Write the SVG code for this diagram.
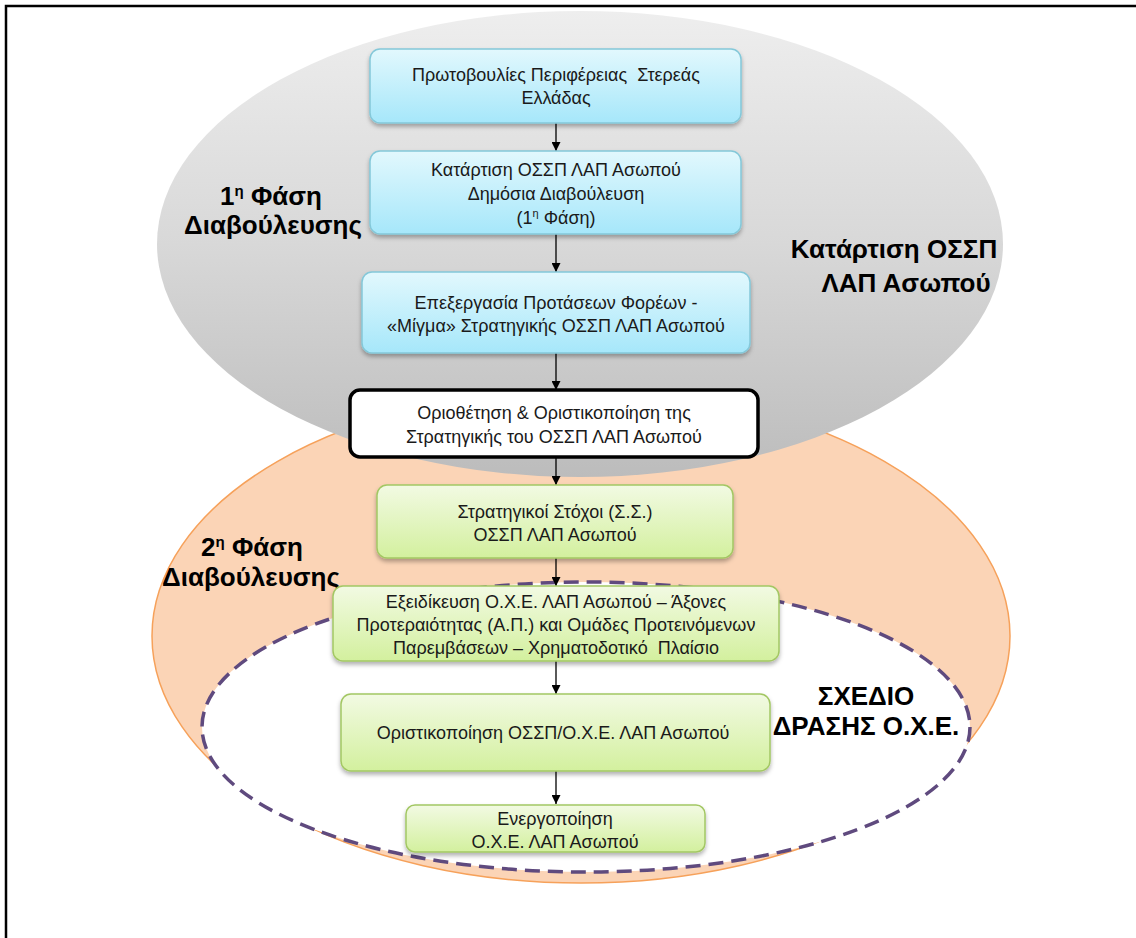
<svg xmlns="http://www.w3.org/2000/svg" width="1136" height="938" viewBox="0 0 1136 938">
<defs>
<linearGradient id="gGray" x1="0" y1="0" x2="0" y2="1">
<stop offset="0" stop-color="#EEEEEE"/>
<stop offset="0.5" stop-color="#D8D8D8"/>
<stop offset="1" stop-color="#BCBCBC"/>
</linearGradient>
<linearGradient id="gBlue" x1="0" y1="0" x2="0" y2="1">
<stop offset="0" stop-color="#E2F8FD"/>
<stop offset="1" stop-color="#A6E7FA"/>
</linearGradient>
<linearGradient id="gGreen" x1="0" y1="0" x2="0" y2="1">
<stop offset="0" stop-color="#F2FAE3"/>
<stop offset="1" stop-color="#D3F09E"/>
</linearGradient>
<filter id="sh" x="-10%" y="-20%" width="120%" height="150%">
<feDropShadow dx="0" dy="3" stdDeviation="2" flood-color="#000" flood-opacity="0.3"/>
</filter>
<marker id="arr" viewBox="0 0 10 10" refX="10" refY="5" markerWidth="9" markerHeight="9" markerUnits="userSpaceOnUse" orient="auto">
<path d="M0,0 L10,5 L0,10 z" fill="#000"/>
</marker>
<style>
.blue{fill:url(#gBlue);stroke:#84C8D9;stroke-width:1.5}
.green{fill:url(#gGreen);stroke:#A3C764;stroke-width:1.5}
.t{font-family:"Liberation Sans",Arial,sans-serif;font-size:18px;fill:#1A1A1A;text-anchor:middle;white-space:pre}
.lbl{font-family:"Liberation Sans",Arial,sans-serif;font-size:26px;font-weight:bold;fill:#000;text-anchor:middle}
.con{stroke:#000;stroke-width:1.3;fill:none;marker-end:url(#arr)}
</style>
</defs>
<rect x="0" y="0" width="1136" height="938" fill="#FFFFFF"/>
<path d="M6,938 V6 H1136" fill="none" stroke="#000" stroke-width="2.5"/>

<g id="bg-ellipses">
<ellipse cx="581" cy="636" rx="429" ry="247" fill="#FBD4B6" stroke="#F6A15A" stroke-width="1.5"/>
<ellipse cx="580" cy="244" rx="423" ry="233" fill="url(#gGray)"/>
<ellipse cx="586" cy="727" rx="384" ry="145" fill="#FFFFFF" stroke="#5F4A7E" stroke-width="3.5" stroke-dasharray="15 8"/>
</g>

<g id="labels">
<text class="lbl" x="271" y="205">1<tspan font-size="15" dy="-9">η</tspan><tspan dy="9"> Φάση</tspan></text>
<text class="lbl" x="273" y="234">Διαβούλευσης</text>
<text class="lbl" x="894" y="258" font-size="25">Κατάρτιση ΟΣΣΠ</text>
<text class="lbl" x="906" y="292" font-size="25">ΛΑΠ Ασωπού</text>
<text class="lbl" x="252" y="556">2<tspan font-size="15" dy="-9">η</tspan><tspan dy="9"> Φάση</tspan></text>
<text class="lbl" x="251" y="586">Διαβούλευσης</text>
<text class="lbl" x="866" y="705">ΣΧΕΔΙΟ</text>
<text class="lbl" x="866" y="735">ΔΡΑΣΗΣ Ο.Χ.Ε.</text>
</g>

<g id="connectors">
<line class="con" x1="556" y1="123" x2="556" y2="151"/>
<line class="con" x1="556" y1="234" x2="556" y2="272"/>
<line class="con" x1="556" y1="353" x2="556" y2="390"/>
<line class="con" x1="556" y1="457" x2="556" y2="485"/>
<line class="con" x1="556" y1="558" x2="556" y2="586"/>
<line class="con" x1="556" y1="661" x2="556" y2="694"/>
<line class="con" x1="556" y1="771" x2="556" y2="804"/>
</g>

<g id="n1">
<rect class="blue" x="370" y="49" width="371" height="74" rx="10" filter="url(#sh)"/>
<text class="t" x="556" y="81">Πρωτοβουλίες Περιφέρειας  Στερεάς</text>
<text class="t" x="556" y="104">Ελλάδας</text>
</g>
<g id="n2">
<rect class="blue" x="370" y="151" width="371" height="83" rx="10" filter="url(#sh)"/>
<text class="t" x="556" y="176">Κατάρτιση ΟΣΣΠ ΛΑΠ Ασωπού</text>
<text class="t" x="556" y="200">Δημόσια Διαβούλευση</text>
<text class="t" x="556" y="224">(1<tspan font-size="11" dy="-7">η</tspan><tspan dy="7"> Φάση)</tspan></text>
</g>
<g id="n3">
<rect class="blue" x="362" y="272" width="388" height="81" rx="10" filter="url(#sh)"/>
<text class="t" x="556" y="309">Επεξεργασία Προτάσεων Φορέων -</text>
<text class="t" x="556" y="332">«Μίγμα» Στρατηγικής ΟΣΣΠ ΛΑΠ Ασωπού</text>
</g>
<g id="n4">
<rect x="350" y="390" width="408" height="67" rx="10" fill="#FFFFFF" stroke="#000" stroke-width="3.5"/>
<text class="t" x="554" y="419">Οριοθέτηση &amp; Οριστικοποίηση της</text>
<text class="t" x="554" y="443">Στρατηγικής του ΟΣΣΠ ΛΑΠ Ασωπού</text>
</g>
<g id="n5">
<rect class="green" x="377" y="485" width="356" height="73" rx="10" filter="url(#sh)"/>
<text class="t" x="555" y="518">Στρατηγικοί Στόχοι (Σ.Σ.)</text>
<text class="t" x="555" y="541">ΟΣΣΠ ΛΑΠ Ασωπού</text>
</g>
<g id="n6">
<rect class="green" x="333" y="586" width="446" height="75" rx="10" filter="url(#sh)"/>
<text class="t" x="556" y="608">Εξειδίκευση Ο.Χ.Ε. ΛΑΠ Ασωπού – Άξονες</text>
<text class="t" x="556" y="631">Προτεραιότητας (Α.Π.) και Ομάδες Προτεινόμενων</text>
<text class="t" x="556" y="654">Παρεμβάσεων – Χρηματοδοτικό  Πλαίσιο</text>
</g>
<g id="n7">
<rect class="green" x="341" y="694" width="429" height="77" rx="10" filter="url(#sh)"/>
<text class="t" x="553" y="739">Οριστικοποίηση ΟΣΣΠ/Ο.Χ.Ε. ΛΑΠ Ασωπού</text>
</g>
<g id="n8">
<rect class="green" x="406" y="805" width="299" height="47" rx="9" filter="url(#sh)"/>
<text class="t" x="555" y="825">Ενεργοποίηση</text>
<text class="t" x="555" y="848">Ο.Χ.Ε. ΛΑΠ Ασωπού</text>
</g>
</svg>
